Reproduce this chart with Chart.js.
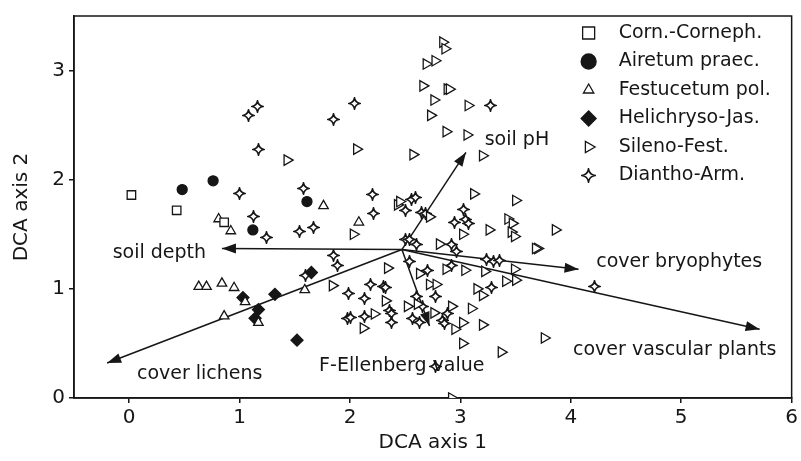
<!DOCTYPE html>
<html>
<head>
<meta charset="utf-8">
<script src="https://cdn.jsdelivr.net/npm/chart.js"></script>
<style>
  html, body { margin: 0; padding: 0; background: #fff; }
  canvas { display: block; }
</style>
</head>
<body>
<canvas id="dcaChart" width="801" height="461"></canvas>
<script>
// DCA ordination of the grassland releves, with environmental vectors

// Axis ticks
const xTicks = [0, 1, 2, 3, 4, 5, 6];
const yTicks = [0, 1, 2, 3];

// Plot scores per community, [axis 1, axis 2]
const cornPoints = [[0.02, 1.86], [0.43, 1.72], [0.86, 1.61]];

const airetumPoints = [[0.48, 1.91], [0.76, 1.99], [1.12, 1.54], [1.61, 1.80]];

const festucetumPoints = [
  [0.81, 1.64], [0.92, 1.53], [0.63, 1.02], [0.70, 1.02], [0.84, 1.05], [0.95, 1.01],
  [1.05, 0.88], [0.86, 0.75], [1.17, 0.69], [1.59, 0.99], [1.76, 1.76], [2.08, 1.61]
];

const helichrysoPoints = [[1.03, 0.92], [1.17, 0.81], [1.14, 0.73], [1.32, 0.95], [1.65, 1.15], [1.52, 0.53]];

const silenoPoints = [
  [2.84, 3.26], [2.86, 3.20], [2.69, 3.06], [2.77, 3.09], [2.66, 2.86], [2.88, 2.83],
  [2.90, 2.83], [2.76, 2.73], [3.07, 2.68], [2.73, 2.59], [2.87, 2.44], [3.06, 2.41],
  [3.20, 2.22], [2.06, 2.28], [2.57, 2.23], [3.12, 1.87], [3.50, 1.81], [1.43, 2.18],
  [2.43, 1.77], [2.45, 1.80], [2.72, 1.66], [2.03, 1.50], [2.34, 1.19], [2.63, 1.14],
  [2.81, 1.41], [3.02, 1.50], [3.26, 1.54], [3.43, 1.64], [3.47, 1.60], [3.46, 1.52],
  [3.49, 1.48], [3.86, 1.54], [3.70, 1.37], [3.68, 1.37], [2.87, 1.18], [3.04, 1.17],
  [3.22, 1.16], [3.49, 1.18], [3.50, 1.08], [3.41, 1.07], [3.20, 0.94], [3.15, 1.00],
  [3.20, 0.67], [3.76, 0.55], [3.37, 0.42], [1.84, 1.03], [2.32, 0.89], [2.22, 0.77],
  [2.12, 0.64], [2.52, 0.84], [2.61, 0.86], [2.72, 1.04], [2.78, 1.04], [2.76, 0.78],
  [2.92, 0.84], [3.10, 0.82], [3.02, 0.69], [2.95, 0.63], [3.02, 0.50], [2.92, 0.00]
];

const dianthoPoints = [
  [2.04, 2.70], [1.85, 2.55], [3.27, 2.68], [1.58, 1.92], [2.20, 1.86], [1.08, 2.59],
  [1.16, 2.67], [1.17, 2.28], [1.00, 1.87], [1.13, 1.66], [1.24, 1.47], [1.54, 1.53],
  [1.67, 1.56], [1.60, 1.12], [2.21, 1.69], [1.85, 1.31], [1.89, 1.21], [2.56, 1.82],
  [2.59, 1.84], [2.50, 1.72], [2.65, 1.70], [2.68, 1.69], [2.50, 1.45], [2.54, 1.45],
  [2.60, 1.41], [2.54, 1.25], [2.92, 1.41], [2.95, 1.61], [3.03, 1.73], [3.05, 1.64],
  [3.07, 1.60], [2.96, 1.34], [3.24, 1.27], [3.30, 1.25], [3.35, 1.26], [2.92, 1.21],
  [2.70, 1.17], [3.28, 1.01], [4.21, 1.02], [1.99, 0.96], [2.19, 1.04], [2.30, 1.02],
  [2.32, 1.01], [2.13, 0.91], [1.98, 0.73], [2.00, 0.74], [2.13, 0.75], [2.36, 0.80],
  [2.38, 0.77], [2.38, 0.69], [2.60, 0.93], [2.66, 0.84], [2.57, 0.73], [2.63, 0.69],
  [2.77, 0.93], [2.84, 0.71], [2.86, 0.68], [2.88, 0.77], [2.77, 0.29]
];

// Environmental vectors (common origin, tip per variable)
const envOrigin = [2.47, 1.36];
const envNames = ["soil pH", "soil depth", "cover lichens", "cover bryophytes", "cover vascular plants", "F-Ellenberg value"];
const envTipX = [3.05, 0.84, -0.20, 4.07, 5.71, 2.72];
const envTipY = [2.25, 1.37, 0.32, 1.18, 0.63, 0.66];

// Where the vector names sit (left edge, middle), in axis units
const envLabelX = [3.22, -0.15, 0.07, 4.23, 4.02, 1.72];
const envLabelY = [2.36, 1.33, 0.22, 1.25, 0.44, 0.29];

const INK = "#161616";
const FONT = "DejaVu Sans";

// four-pointed star marker for Diantho-Arm.
function makeStar(size, lw) {
  const c = document.createElement("canvas");
  c.width = size;
  c.height = size;
  const g = c.getContext("2d");
  const m = size / 2;
  const r = size / 2 - 1;
  const k = 0.9;
  g.beginPath();
  g.moveTo(m, m - r);
  g.quadraticCurveTo(m + k, m - k, m + r, m);
  g.quadraticCurveTo(m + k, m + k, m, m + r);
  g.quadraticCurveTo(m - k, m + k, m - r, m);
  g.quadraticCurveTo(m - k, m - k, m, m - r);
  g.closePath();
  g.fillStyle = "#fff";
  g.fill();
  g.lineWidth = lw;
  g.strokeStyle = INK;
  g.stroke();
  return c;
}

const starSmall = makeStar(13, 1.6);
const starLegend = makeStar(15, 1.6);

function pointSet(label, pts, style, radius, rotation, fill) {
  return {
    label: label,
    data: pts.map((p) => ({ x: p[0], y: p[1] })),
    pointStyle: style,
    pointRadius: radius,
    pointRotation: rotation,
    pointBackgroundColor: fill,
    pointBorderColor: INK,
    pointBorderWidth: 1.3,
    showLine: false,
  };
}

const groups = [
  { name: "Corn.-Corneph.", pts: cornPoints, style: "rect", r: 6, rot: 0, fill: "#fff", lr: 8.5 },
  { name: "Airetum praec.", pts: airetumPoints, style: "circle", r: 5, rot: 0, fill: INK, lr: 7.5 },
  { name: "Festucetum pol.", pts: festucetumPoints, style: "triangle", r: 5.5, rot: 0, fill: "#fff", lr: 6 },
  { name: "Helichryso-Jas.", pts: helichrysoPoints, style: "rectRot", r: 6, rot: 0, fill: INK, lr: 7.5 },
  { name: "Sileno-Fest.", pts: silenoPoints, style: "triangle", r: 6, rot: 90, fill: "#fff", lr: 6.5 },
  { name: "Diantho-Arm.", pts: dianthoPoints, style: starSmall, r: 6, rot: 0, fill: "#fff", lr: 7, legendStyle: starLegend },
];

const datasets = [];
groups.forEach((g) => {
  datasets.push(pointSet(g.name, g.pts, g.style, g.r, g.rot, g.fill));
});

envNames.forEach((name, i) => {
  datasets.push({
    label: name,
    isArrow: true,
    data: [
      { x: envOrigin[0], y: envOrigin[1] },
      { x: envTipX[i], y: envTipY[i] },
    ],
    showLine: true,
    borderColor: INK,
    borderWidth: 1.5,
    pointRadius: 0,
    fill: false,
  });
});

// Arrow heads at the tip of each vector
const arrowHeads = {
  id: "arrowHeads",
  afterDatasetsDraw(chart) {
    const ctx = chart.ctx;
    chart.data.datasets.forEach((d, i) => {
      if (!d.isArrow) return;
      const pts = chart.getDatasetMeta(i).data;
      const a = pts[0];
      const b = pts[1];
      const ang = Math.atan2(b.y - a.y, b.x - a.x);
      ctx.save();
      ctx.translate(b.x, b.y);
      ctx.rotate(ang);
      ctx.beginPath();
      ctx.moveTo(0, 0);
      ctx.lineTo(-14, -5);
      ctx.lineTo(-14, 5);
      ctx.closePath();
      ctx.fillStyle = INK;
      ctx.fill();
      ctx.restore();
    });
  },
};

// Vector names
const vectorLabels = {
  id: "vectorLabels",
  afterDatasetsDraw(chart) {
    const ctx = chart.ctx;
    const xs = chart.scales.x;
    const ys = chart.scales.y;
    ctx.save();
    ctx.font = "19px '" + FONT + "'";
    ctx.fillStyle = INK;
    ctx.textAlign = "left";
    ctx.textBaseline = "middle";
    envNames.forEach((name, i) => {
      ctx.fillText(name, xs.getPixelForValue(envLabelX[i]), ys.getPixelForValue(envLabelY[i]));
    });
    ctx.restore();
  },
};

function drawMarker(ctx, style, radius, rotation, x, y) {
  if (style instanceof HTMLCanvasElement) {
    ctx.drawImage(style, Math.round(x - style.width / 2), Math.round(y - style.height / 2));
    return;
  }
  ctx.save();
  ctx.translate(x, y);
  ctx.rotate((rotation * Math.PI) / 180);
  ctx.beginPath();
  if (style === "rect") {
    const s = radius * Math.SQRT1_2;
    ctx.rect(-s, -s, 2 * s, 2 * s);
  } else if (style === "circle") {
    ctx.arc(0, 0, radius, 0, Math.PI * 2);
  } else if (style === "triangle") {
    for (let k = 0; k < 3; k++) {
      const a = (k * 2 * Math.PI) / 3;
      const px = Math.sin(a) * radius;
      const py = -Math.cos(a) * radius;
      if (k === 0) ctx.moveTo(px, py);
      else ctx.lineTo(px, py);
    }
  } else if (style === "rectRot") {
    ctx.moveTo(-radius, 0);
    ctx.lineTo(0, -radius);
    ctx.lineTo(radius, 0);
    ctx.lineTo(0, radius);
  }
  ctx.closePath();
  ctx.fill();
  ctx.stroke();
  ctx.restore();
}

// Legend in the upper right corner of the plot
const cornerLegend = {
  id: "cornerLegend",
  afterDraw(chart) {
    const ctx = chart.ctx;
    const area = chart.chartArea;
    const mx = area.right - 203;
    const tx = area.right - 173;
    ctx.save();
    ctx.font = "19px '" + FONT + "'";
    ctx.textAlign = "left";
    ctx.textBaseline = "middle";
    groups.forEach((g, i) => {
      const y = area.top + 17 + i * 28.5;
      ctx.fillStyle = g.fill;
      ctx.strokeStyle = INK;
      ctx.lineWidth = 1.3;
      drawMarker(ctx, g.legendStyle || g.style, g.lr, g.rot, mx, y);
      ctx.fillStyle = INK;
      ctx.fillText(g.name, tx, y);
    });
    ctx.restore();
  },
};

// Frame round the plot area; keep image markers crisp
const plotFrame = {
  id: "plotFrame",
  beforeDatasetsDraw(chart) {
    const ctx = chart.ctx;
    const a = chart.chartArea;
    ctx.imageSmoothingEnabled = false;
    ctx.save();
    ctx.strokeStyle = INK;
    ctx.lineWidth = 1.5;
    ctx.strokeRect(a.left, a.top, a.right - a.left, a.bottom - a.top);
    ctx.restore();
  },
};

const ctx = document.getElementById("dcaChart").getContext("2d");
new Chart(ctx, {
  type: "scatter",
  data: { datasets: datasets },
  options: {
    responsive: false,
    animation: false,
    devicePixelRatio: 1,
    layout: { padding: { top: 12, right: 8, left: 0, bottom: 0 } },
    plugins: {
      legend: { display: false },
      tooltip: { enabled: false },
    },
    scales: {
      x: {
        type: "linear",
        min: -0.5,
        max: 6,
        afterBuildTicks: (s) => {
          s.ticks = xTicks.map((v) => ({ value: v }));
        },
        afterFit: (s) => {
          s.height = 63;
        },
        grid: { display: true, drawOnChartArea: false, drawTicks: true, tickLength: 5, color: INK, lineWidth: 1.5 },
        border: { display: true, color: INK, width: 1.5 },
        ticks: { color: INK, font: { family: FONT, size: 20 }, padding: 3, maxRotation: 0 },
        title: { display: true, text: "DCA axis 1", color: INK, font: { family: FONT, size: 20 }, padding: { top: 0, bottom: 6 } },
      },
      y: {
        type: "linear",
        min: 0,
        max: 3.5,
        afterBuildTicks: (s) => {
          s.ticks = yTicks.map((v) => ({ value: v }));
        },
        afterFit: (s) => {
          s.width = 74;
        },
        grid: { display: true, drawOnChartArea: false, drawTicks: true, tickLength: 5, color: INK, lineWidth: 1.5 },
        border: { display: true, color: INK, width: 1.5 },
        ticks: { color: INK, font: { family: FONT, size: 20 }, padding: 4 },
        title: { display: true, text: "DCA axis 2", color: INK, font: { family: FONT, size: 20 }, padding: { top: 10, bottom: 0 } },
      },
    },
  },
  plugins: [plotFrame, arrowHeads, vectorLabels, cornerLegend],
});
</script>
</body>
</html>
